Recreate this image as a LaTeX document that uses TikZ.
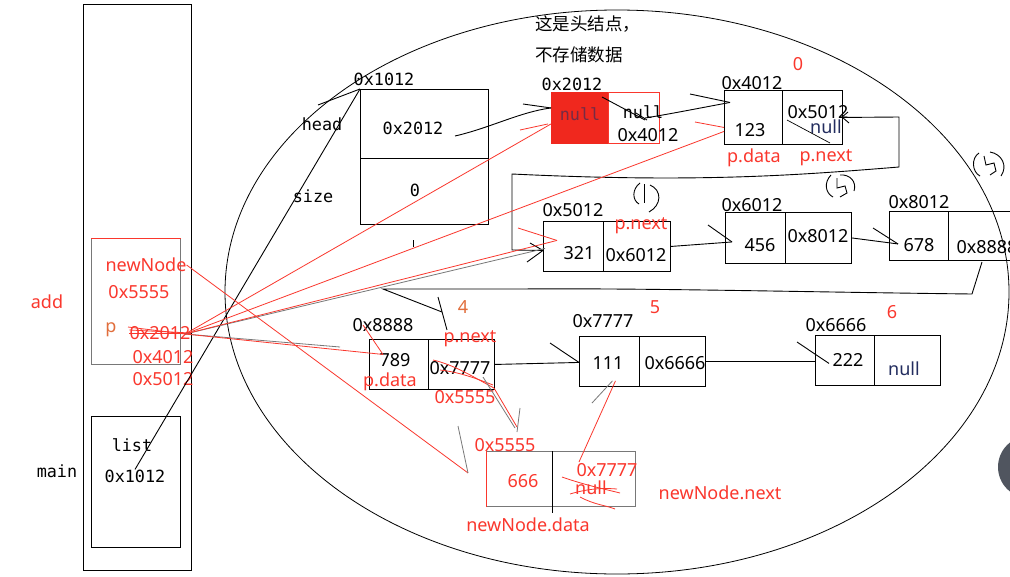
\documentclass[tikz,border=0pt]{standalone}
\usepackage{fontspec}
\setmainfont{Noto Sans}
\newfontfamily\monof{DejaVu Sans Mono}
\newfontfamily\cjk{Noto Sans CJK SC}
\usetikzlibrary{calc}
\definecolor{rd}{RGB}{250,55,45}
\definecolor{rdfill}{RGB}{240,40,30}
\definecolor{org}{RGB}{225,110,60}
\definecolor{gry}{RGB}{120,120,120}
\definecolor{nav}{RGB}{35,45,95}
\definecolor{uidark}{RGB}{80,85,95}
\begin{document}
\begin{tikzpicture}[x=1pt,y=-1pt,
 cell/.style={draw=black,line width=0.9pt,inner sep=0pt,anchor=north west},
 mt/.style={font=\monof\fontsize{16.8}{16.8}\selectfont,inner sep=0pt},
 st/.style={font=\fontsize{18}{18}\selectfont,inner sep=0pt},
 rt/.style={st,text=rd},
 ct/.style={font=\cjk\fontsize{17.5}{17.5}\selectfont,inner sep=0pt,anchor=west},
 ln/.style={line width=0.9pt},
 rl/.style={draw=rd,line width=0.8pt},
 gl/.style={draw=gry,line width=0.8pt},
]
\useasboundingbox (0,0) rectangle (1010,576);
\fill[white] (0,0) rectangle (1010,576);

% ---------- stack ----------
\node[cell, minimum width=108pt, minimum height=566pt] (stack) at (83,4) {};
\node[cell, draw=gry, minimum width=89pt, minimum height=126pt] (addf) at (91,238) {};
\draw[rd, line width=1pt] (addf.north west) -- (addf.north east);
\node[cell, minimum width=89pt, minimum height=131pt] (mainf) at (91,416) {};

\node[rt] (add) at (47,302) {add};
\node[mt] (mainlbl) at (57,471) {main};
\node[mt] (list) at (132,445) {list};
\node[mt] (lv) at (135,476) {0x1012};
\node[rt] (nn) at (146,265) {newNode};
\node[rt] (nnv) at (139,292) {0x5555};
\node[st, text=org] (p) at (111,330) {p};
\node[rt] (pv1) at (160,333) {0x2012};
\node[rt] (pv2) at (163,357) {0x4012};
\node[rt] (pv3) at (163,379) {0x5012};
\draw[rl] (pv1.west) -- (pv1.east);
\draw[rl] ($(pv1.west)+(0,-3)$) -- (pv1.east);

% ---------- heap ellipse ----------
\draw[line width=0.8pt] (617,292) ellipse [x radius=392, y radius=282];

% ---------- list struct ----------
\node[cell, minimum width=128pt, minimum height=69pt] (hhead) at (360,89) {};
\node[cell, minimum width=128pt, minimum height=66pt] (hsize) at (360,158) {};
\node[mt] (h1012) at (384,79) {0x1012};
\node[mt] (headlbl) at (322,124) {head};
\node[mt] (sizelbl) at (313,196) {size};
\node[mt] (hv) at (413,128) {0x2012};
\node[mt] (sv) at (415,190) {0};
\draw[ln] (413,240) -- (413,247);

% ---------- head node 0x2012 ----------
\node[ct] (cn1) at (535,24) {这是头结点，};
\node[ct] (cn2) at (535,55) {不存储数据};
\node[cell, draw=rdfill, fill=rdfill, minimum width=57pt, minimum height=51pt] (r1) at (551,92) {};
\node[cell, draw=rd, minimum width=51pt, minimum height=51pt] (r2) at (608,92) {};
\node[mt] (r1lbl) at (572,84) {0x2012};
\node[mt, text=nav!60!rdfill] (rnull1) at (580,114) {null};
\node[mt] (rnull2) at (643,112) {null};
\node[st] (r4012) at (648,135) {0x4012};

% ---------- node 0x4012 ----------
\node[cell, minimum width=58pt, minimum height=54pt] (a1) at (724,90) {};
\node[cell, minimum width=60pt, minimum height=54pt] (a2) at (782,90) {};
\node[st] (albl) at (752,83) {0x4012};
\node[st] (adata) at (750,130) {123};
\node[st] (anext) at (818,112) {0x5012};
\node[st, text=nav] (anull) at (826,127) {null};
\node[rt] (zero) at (798,64) {0};
\node[rt] (apd) at (754,158) {p.data};
\node[rt] (apn) at (826,158) {p.next};

% ---------- node 0x5012 ----------
\node[cell, minimum width=60pt, minimum height=50pt] (b1) at (543,221) {};
\node[cell, minimum width=67pt, minimum height=50pt] (b2) at (603,221) {};
\node[st] (blbl) at (573,210) {0x5012};
\node[st] (bdata) at (579,253) {321};
\node[st] (bnext) at (636,255) {0x6012};
\node[rt] (bpn) at (641,226) {p.next};

% ---------- node 0x6012 ----------
\node[cell, minimum width=60pt, minimum height=51pt] (c1) at (725,212) {};
\node[cell, minimum width=66pt, minimum height=51pt] (c2) at (785,212) {};
\node[st] (clbl) at (752,205) {0x6012};
\node[st] (cdata) at (760,245) {456};
\node[st] (cnext) at (818,236) {0x8012};

% ---------- node 0x8012 ----------
\node[cell, minimum width=59pt, minimum height=49pt] (d1) at (889,211) {};
\node[cell, minimum width=70pt, minimum height=49pt] (d2) at (948,211) {};
\node[st] (dlbl) at (919,202) {0x8012};
\node[st] (ddata) at (919,245) {678};
\node[st] (dnext) at (987,247) {0x8888};

% ---------- node 0x8888 ----------
\node[cell, minimum width=59pt, minimum height=50pt] (e1) at (369,339) {};
\node[cell, minimum width=66pt, minimum height=50pt] (e2) at (428,339) {};
\node[st] (elbl) at (383,325) {0x8888};
\node[st] (edata) at (395,360) {789};
\node[rt] (epd) at (390,382) {p.data};
\node[rt] (epn) at (470,339) {p.next};
\node[st] (enext) at (460,368) {0x7777};
\node[rt] (e5555) at (465,397) {0x5555};
\node[st, text=org] (four) at (463,307) {4};

% ---------- node 0x7777 ----------
\node[cell, minimum width=60pt, minimum height=50pt] (f1) at (579,336) {};
\node[cell, minimum width=66pt, minimum height=50pt] (f2) at (639,336) {};
\node[st] (flbl) at (603,321) {0x7777};
\node[st] (fdata) at (608,363) {111};
\node[st] (fnext) at (675,363) {0x6666};
\node[rt] (five) at (655,307) {5};

% ---------- node 0x6666 ----------
\node[cell, minimum width=59pt, minimum height=50pt] (g1) at (815,335) {};
\node[cell, minimum width=66pt, minimum height=50pt] (g2) at (874,335) {};
\node[st] (glbl) at (836,325) {0x6666};
\node[st] (gdata) at (848,360) {222};
\node[st, text=nav] (gnull) at (904,369) {null};
\node[rt] (six) at (892,312) {6};

% ---------- new node 0x5555 ----------
\node[cell, draw=gry, minimum width=66pt, minimum height=55pt] (n1) at (486,451) {};
\node[cell, draw=gry, minimum width=83pt, minimum height=55pt] (n2) at (552,451) {};
\draw[rd, line width=1pt] (n1.north west) -- (n1.south west);
\draw[ln] (n2.north west) -- ($(n2.south west)+(0,6)$);
\node[rt] (nlbl) at (505,445) {0x5555};
\node[rt] (ndata) at (523,481) {666};
\node[rt] (nnext) at (607,470) {0x7777};
\node[rt] (nnull) at (591,488) {null};
\node[rt] (ndl) at (528,525) {newNode.data};
\node[rt] (nnl) at (720,493) {newNode.next};
\draw[rl] (562,477) .. controls (585,485) and (600,488) .. (620,493);
\draw[rl] (570,494) .. controls (590,488) and (605,488) .. (617,489);
\draw[rl] (580,497) .. controls (595,505) and (605,505) .. (615,509);

% ---------- UI dot ----------
\fill[uidark] (1029,467) circle (31);

% ---------- black connectors ----------
\coordinate (P) at (185,334);
\draw[ln] (lv.north) -- (hhead.north west);
\draw[ln] (318,105) -- (hhead.north west);
\coordinate (hvE) at (455,136);
\draw[ln] (hvE) .. controls (490,128) and (520,112) .. ($(r1.west)+(0,-10)$);
\draw[ln] (523,104) -- ($(r1.west)+(0,-10)$);
\draw[ln] (602,97) -- (645,120);
\draw[ln] (636,113) -- (647,120);
\draw[ln] (645,118) .. controls (670,114) and (700,108) .. ($(a1.west)+(6,-15)$);
\draw[ln] (690,94) -- ($(a1.west)+(6,-15)$);
\draw[line width=0.7pt] (787,120) -- (830,143);
% loop 0x4012 -> 0x5012
\draw[ln] (a2.east) -- (899,117) -- (899,167) .. controls (800,175) and (700,183) .. (512,174) -- (512,250) -- ($(b1.west)+(0,4)$);
\draw[ln] (848,112) -- (842,117) -- (849,123);
\draw[ln] (530,243) -- ($(b1.west)+(0,4)$) -- (527,262);
% scribbled circled numbers
\draw[ln] (640,183) .. controls (632,189) and (632,200) .. (639,204);
\draw[ln] (644,184) -- (644,203);
\draw[ln] (650,185) .. controls (662,190) and (662,205) .. (649,212);
\draw[ln] (831,175) .. controls (824,182) and (825,193) .. (833,197);
\draw[ln] (837,178) -- (837,188) -- (845,186) -- (847,193) -- (840,197);
\draw[ln] (840,175) .. controls (850,174) and (857,182) .. (854,191);
\draw[ln] (979,153) .. controls (971,158) and (972,172) .. (980,176);
\draw[ln] (984,156) -- (986,165) -- (994,163) -- (996,171) -- (990,175);
\draw[ln] (990,152) .. controls (1002,154) and (1008,166) .. (1001,176);
% 0x5012 -> 0x6012 -> 0x8012
\draw[ln] (b2.east) -- ($(c1.west)+(7,4)$);
\draw[ln] (708,225) -- ($(c1.west)+(7,4)$);
\draw[ln] (c2.east) -- ($(d1.west)+(9,8)$);
\draw[ln] (873,228) -- ($(d1.west)+(9,8)$);
% 0x8012 -> 0x8888
\draw[ln] (982,262) -- (972,294) .. controls (800,292) and (650,288) .. (520,289) -- (383,289) -- (442,312);
\draw[ln] (438,297) -- (447,330);
% 0x8888 -> 0x7777 -> 0x6666
\draw[ln] (e2.east) -- ($(f1.west)+(0,1)$);
\draw[ln] (550,343) -- ($(f1.west)+(0,1)$);
\draw[ln] (f2.east) -- ($(g1.west)+(0,1)$);
\draw[ln] (797,342) -- ($(g1.west)+(14,3)$);

% ---------- red / grey pointers from p ----------
\draw[rl] (P) -- ($(r1.west)+(0,6)$);
\draw[rl] (520,130) -- ($(r1.west)+(-3,6)$);
\draw[rl] (P) -- ($(a1.west)+(0,14)$);
\draw[rl] (695,122) -- ($(a1.west)+(0,10)$);
\draw[gl] (P) -- ($(b1.west)+(2,2)$);
\draw[rl] (P) -- ($(b1.west)+(14,-6)$);
\draw[rl] (518,228) -- ($(b1.west)+(14,-6)$);
\draw[gl] (P) -- (340,347);
\draw[rl] (P) -- ($(e1.west)+(14,-10)$);
\draw[rl] (363,325) -- ($(e1.west)+(14,-10)$);
\draw[rl] (128,327) -- (P);
\draw[rl] (nn.east) -- ($(n1.west)+(-18,-6)$);
\draw[gl] (458,426) -- ($(n1.west)+(-18,-6)$);
% new node pointers
\draw[rl] (433,360) .. controls (455,365) and (475,378) .. (494,388);
\draw[rl] (440,370) .. controls (460,372) and (480,380) .. (493,385);
\draw[rl] (494,388) -- (517,427);
\draw[gl] (483,377) -- (515,428);
\draw[gl] (520,408) -- (517,432);
\draw[rl] (579,462) -- ($(f1.south)+(6,-6)$);
\draw[gl] (592,403) -- ($(f1.south)+(3,-6)$);
\end{tikzpicture}
\end{document}
